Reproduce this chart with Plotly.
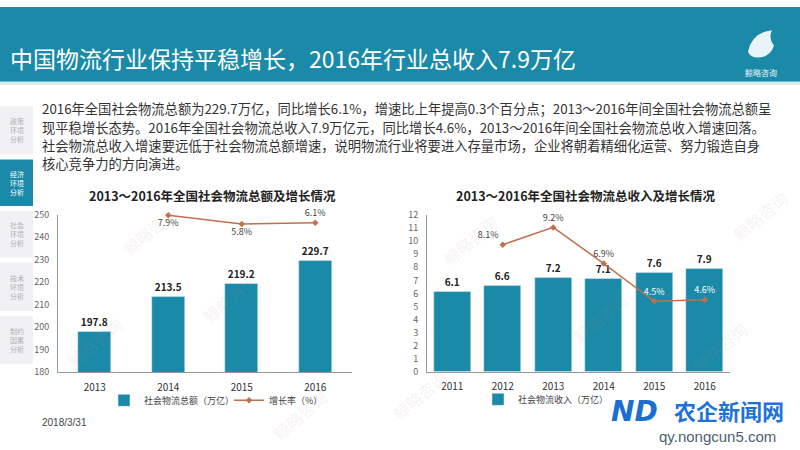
import plotly.graph_objects as go

# ---------------- data ----------------
years_left = ["2013", "2014", "2015", "2016"]
total_value = [197.8, 213.5, 219.2, 229.7]          # 社会物流总额（万亿）
growth_years_left = ["2014", "2015", "2016"]
growth_left = [7.9, 5.8, 6.1]                        # 增长率（%）

years_right = ["2011", "2012", "2013", "2014", "2015", "2016"]
income_value = [6.1, 6.6, 7.2, 7.1, 7.6, 7.9]        # 社会物流收入（万亿）
growth_years_right = ["2012", "2013", "2014", "2015", "2016"]
growth_right = [8.1, 9.2, 6.9, 4.5, 4.6]             # 增长率（%）

TEAL = "#1a8aa8"
LINE = "#c0704d"
FONT = "Noto Sans CJK SC"
W, H = 800, 450


def px(x):
    return x / W


def py(y):
    return 1 - y / H


fig = go.Figure()

# left chart
fig.add_trace(go.Bar(
    x=years_left, y=total_value, name="社会物流总额（万亿）",
    marker_color=TEAL, width=0.45,
    texttemplate="%{y:.1f}", textposition="outside",
    textfont=dict(size=10, color="#222", family=FONT, weight="bold"),
    cliponaxis=False, xaxis="x", yaxis="y", legend="legend"))
fig.add_trace(go.Scatter(
    x=growth_years_left, y=growth_left, name="增长率（%）",
    mode="lines+markers+text", line=dict(color=LINE, width=1.5),
    marker=dict(size=5, color=LINE, symbol="diamond"),
    text=[f"{v:.1f}%" for v in growth_left],
    textposition=["bottom center", "bottom center", "top center"],
    textfont=dict(size=9, color="#444", family=FONT),
    cliponaxis=False, xaxis="x", yaxis="y2", legend="legend"))

# right chart
fig.add_trace(go.Bar(
    x=years_right, y=income_value, name="社会物流收入（万亿）",
    marker_color=TEAL, width=0.73,
    texttemplate="%{y:.1f}", textposition="outside",
    textfont=dict(size=10, color="#222", family=FONT, weight="bold"),
    cliponaxis=False, xaxis="x2", yaxis="y3", legend="legend2"))
fig.add_trace(go.Scatter(
    x=growth_years_right, y=growth_right, name="增长率（%）",
    mode="lines+markers+text", line=dict(color=LINE, width=1.5),
    marker=dict(size=5, color=LINE, symbol="diamond"),
    text=[f"{v:.1f}%" for v in growth_right],
    textposition=["top left", "top center", "top center", "top center", "top center"],
    textfont=dict(size=9, color=["#444", "#444", "#444", "white", "white"], family=FONT),
    cliponaxis=False, showlegend=False, xaxis="x2", yaxis="y4"))

axis_common = dict(showline=True, linecolor="#999", linewidth=1, showgrid=False,
                   zeroline=False, ticks="", fixedrange=True)

ydom = [py(376), py(214)]
fig.update_layout(
    width=W, height=H, margin=dict(l=0, r=0, t=0, b=0),
    paper_bgcolor="white", plot_bgcolor="rgba(0,0,0,0)",
    font=dict(family=FONT, color="#333"),
    bargap=0,
    xaxis=dict(domain=[px(58), px(352)], anchor="y", type="category", ticklabelstandoff=6,
               tickfont=dict(size=10, color="#333"), **axis_common),
    yaxis=dict(domain=ydom, anchor="x", range=[180, 250], dtick=10, ticklabelstandoff=6,
               tickfont=dict(size=9, color="#666"), **axis_common),
    yaxis2=dict(overlaying="y", anchor="x", range=[-30, 8], visible=False, fixedrange=True),
    xaxis2=dict(domain=[px(427), px(730)], anchor="y3", type="category", ticklabelstandoff=5,
                tickfont=dict(size=10, color="#333"), **axis_common),
    yaxis3=dict(domain=ydom, anchor="x2", range=[0, 12], dtick=1, ticklabelstandoff=6,
                tickfont=dict(size=9, color="#666"), **axis_common),
    yaxis4=dict(overlaying="y3", anchor="x2", range=[0, 10], visible=False, fixedrange=True),
    legend=dict(orientation="h", x=px(104), y=py(405), yanchor="middle", xanchor="left",
                font=dict(size=9, color="#444"), bgcolor="rgba(0,0,0,0)", itemwidth=30,
                entrywidth=80),
    legend2=dict(orientation="h", x=px(478), y=py(404), yanchor="middle", xanchor="left",
                 font=dict(size=9, color="#444"), bgcolor="rgba(0,0,0,0)", itemwidth=30),
)

shapes = []
# header band
shapes.append(dict(type="rect", xref="paper", yref="paper", x0=0, x1=1, y0=py(77), y1=1,
                   fillcolor=TEAL, line_width=0, layer="below"))
shapes.append(dict(type="rect", xref="paper", yref="paper", x0=0, x1=1, y0=py(80), y1=py(77),
                   fillcolor="#d3ebf2", line_width=0, layer="below"))
# logo blob
shapes.append(dict(type="path", xref="paper", yref="paper",
                   path=f"M {px(748)},{py(46)} Q {px(752)},{py(26)} {px(772)},{py(24)} "
                        f"Q {px(768)},{py(32)} {px(774)},{py(40)} Q {px(770)},{py(52)} {px(758)},{py(52)} "
                        f"Q {px(750)},{py(52)} {px(748)},{py(46)} Z",
                   fillcolor="rgba(255,255,255,0.9)", line_width=0))
# sidebar boxes
side_boxes = [(102, 152), (157, 205), (210, 258), (263, 313), (318, 368)]
side_labels = ["政策<br>环境<br>分析", "经济<br>环境<br>分析", "社会<br>环境<br>分析",
               "技术<br>环境<br>分析", "制约<br>因素<br>分析"]
for i, (t, b) in enumerate(side_boxes):
    shapes.append(dict(type="rect", xref="paper", yref="paper", x0=0, x1=px(33),
                       y0=py(b), y1=py(t), fillcolor=TEAL if i == 1 else "#f1f1f3",
                       line_width=0, layer="below"))
fig.update_layout(shapes=shapes)

ann = []
ann.append(dict(x=px(8), y=py(53), xref="paper", yref="paper", xanchor="left", yanchor="middle",
                text="中国物流行业保持平稳增长，2016年行业总收入7.9万亿", showarrow=False,
                font=dict(size=23, color="white", family=FONT)))
ann.append(dict(x=px(761), y=py(67), xref="paper", yref="paper", xanchor="center", yanchor="middle",
                text="鲸略咨询", showarrow=False, font=dict(size=8, color="#e6f4f8", family=FONT)))
for i, ((t, b), lab) in enumerate(zip(side_boxes, side_labels)):
    ann.append(dict(x=px(16.5), y=py((t + b) / 2), xref="paper", yref="paper",
                    xanchor="center", yanchor="middle", text=lab, showarrow=False,
                    font=dict(size=7, color="white" if i == 1 else "#b0b0b0", family=FONT)))

body = [
    "2016年全国社会物流总额为229.7万亿，同比增长6.1%，增速比上年提高0.3个百分点；2013～2016年间全国社会物流总额呈",
    "现平稳增长态势。2016年全国社会物流总收入7.9万亿元，同比增长4.6%，2013～2016年间全国社会物流总收入增速回落。",
    "社会物流总收入增速要远低于社会物流总额增速，说明物流行业将要进入存量市场，企业将朝着精细化运营、努力锻造自身",
    "核心竞争力的方向演进。",
]
for yy, line in zip([105, 124, 143, 161], body):
    ann.append(dict(x=px(40), y=py(yy), xref="paper", yref="paper", xanchor="left", yanchor="middle",
                    text=line, showarrow=False, font=dict(size=13.3, color="#333", family=FONT)))

ann.append(dict(x=px(212), y=py(194), xref="paper", yref="paper", xanchor="center", yanchor="middle",
                text="<b>2013～2016年全国社会物流总额及增长情况</b>", showarrow=False,
                font=dict(size=12.5, color="#222", family=FONT)))
ann.append(dict(x=px(586), y=py(194), xref="paper", yref="paper", xanchor="center", yanchor="middle",
                text="<b>2013～2016年全国社会物流总收入及增长情况</b>", showarrow=False,
                font=dict(size=12.5, color="#222", family=FONT)))
ann.append(dict(x=px(40), y=py(428), xref="paper", yref="paper", xanchor="left", yanchor="middle",
                text="2018/3/31", showarrow=False, font=dict(size=10, color="#444", family="Liberation Sans")))

# faint background watermarks
for (wx, wy) in [(95, 345), (230, 300), (300, 420), (470, 240), (560, 120), (600, 320),
                 (760, 215), (720, 350), (420, 400), (150, 230)]:
    ann.append(dict(x=px(wx), y=py(wy), xref="paper", yref="paper", xanchor="center", yanchor="middle",
                    text="鲸略咨询", textangle=-40, showarrow=False,
                    font=dict(size=16, color="rgba(190,140,140,0.13)", family=FONT)))

# site watermark
ann.append(dict(x=px(634), y=py(417), xref="paper", yref="paper", xanchor="center", yanchor="middle",
                text="<b><i>ND</i></b>", showarrow=False,
                font=dict(size=28, color="#1a6fd0", family="DejaVu Sans")))
ann.append(dict(x=px(729), y=py(415), xref="paper", yref="paper", xanchor="center", yanchor="middle",
                text="<b>农企新闻网</b>", showarrow=False,
                font=dict(size=22, color="#1f72d6", family=FONT)))
ann.append(dict(x=px(717), y=py(442), xref="paper", yref="paper", xanchor="center", yanchor="middle",
                text="qy.nongcun5.com", showarrow=False,
                font=dict(size=15, color="#4b5f73", family="Liberation Sans")))

fig.update_layout(annotations=ann)

fig.write_html("out.html")
